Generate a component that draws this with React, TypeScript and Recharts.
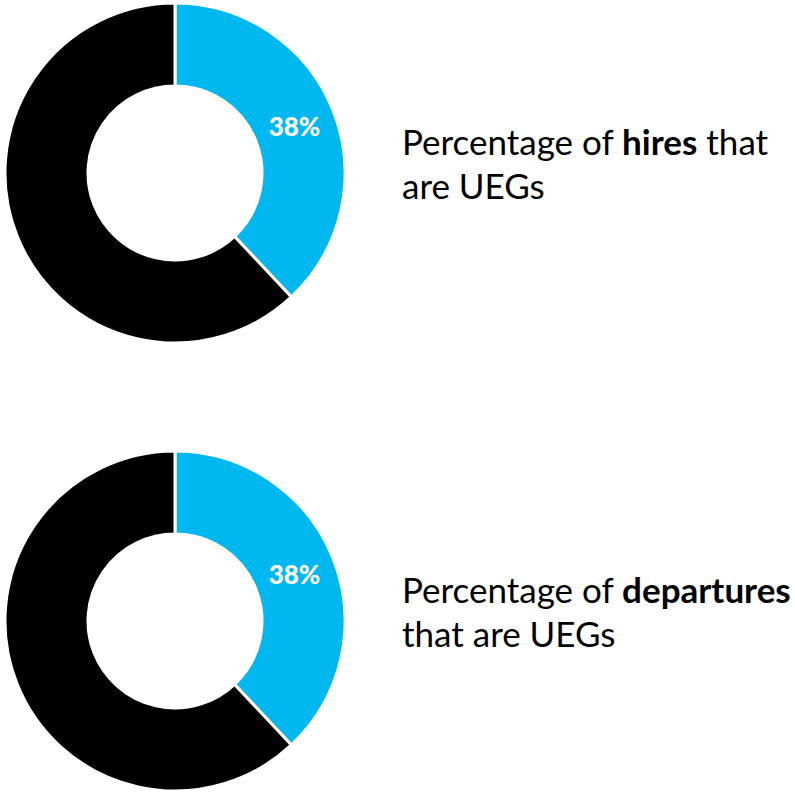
import React from "react";
import { PieChart, Pie, Cell } from "recharts";

const categories = ["UEGs", "Other"];
const hiresValues = [38, 62];
const departuresValues = [38, 62];
const sliceColors = ["#00B7F0", "#000000"];

const hiresData = categories.map((name, i) => ({ name, value: hiresValues[i] }));
const departuresData = categories.map((name, i) => ({ name, value: departuresValues[i] }));

const RADIAN = Math.PI / 180;

const renderLabel = (props: any) => {
  const { cx, cy, midAngle, innerRadius, outerRadius, percent, index } = props;
  if (index !== 0) return null;
  const r = (innerRadius + outerRadius) / 2;
  const x = cx + r * Math.cos(-midAngle * RADIAN);
  const y = cy + r * Math.sin(-midAngle * RADIAN);
  return (
    <text
      x={x}
      y={y}
      fill="#ffffff"
      textAnchor="middle"
      dominantBaseline="central"
      fontFamily="Lato, sans-serif"
      fontWeight={900}
      fontSize={26}
    >
      {`${Math.round(percent * 100)}%`}
    </text>
  );
};

const textStyle: React.CSSProperties = {
  position: "absolute",
  left: 402,
  fontFamily: "Lato, sans-serif",
  fontSize: 35,
  lineHeight: "44px",
  color: "#000",
  whiteSpace: "nowrap",
};

const App = () => {
  return (
    <div style={{ position: "absolute", left: 0, top: 0, width: 795, height: 792, background: "#fff" }}>
      <PieChart width={795} height={792} margin={{ top: 0, right: 0, bottom: 0, left: 0 }}>
        <Pie
          data={hiresData}
          dataKey="value"
          nameKey="name"
          cx={175}
          cy={173}
          innerRadius={87}
          outerRadius={170}
          startAngle={90}
          endAngle={-270}
          stroke="#ffffff"
          strokeWidth={3}
          label={renderLabel}
          labelLine={false}
          isAnimationActive={false}
        >
          {hiresData.map((d, i) => (
            <Cell key={d.name} fill={sliceColors[i]} />
          ))}
        </Pie>
        <Pie
          data={departuresData}
          dataKey="value"
          nameKey="name"
          cx={175}
          cy={621}
          innerRadius={87}
          outerRadius={170}
          startAngle={90}
          endAngle={-270}
          stroke="#ffffff"
          strokeWidth={3}
          label={renderLabel}
          labelLine={false}
          isAnimationActive={false}
        >
          {departuresData.map((d, i) => (
            <Cell key={d.name} fill={sliceColors[i]} />
          ))}
        </Pie>
      </PieChart>
      <div style={{ ...textStyle, top: 119 }}>
        Percentage of <b>hires</b> that
        <br />
        are UEGs
      </div>
      <div style={{ ...textStyle, top: 567 }}>
        Percentage of <b>departures</b>
        <br />
        that are UEGs
      </div>
    </div>
  );
};

export default App;
